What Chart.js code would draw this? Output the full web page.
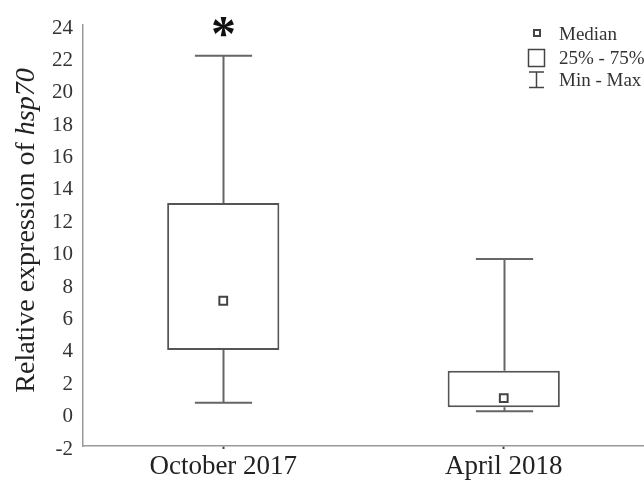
<!DOCTYPE html>
<html>
<head>
<meta charset="utf-8">
<script src="https://cdn.jsdelivr.net/npm/chart.js@4/dist/chart.umd.min.js"></script>
<style>
  html, body { margin: 0; padding: 0; background: #fff; }
  #wrap { width: 644px; height: 485px; position: relative; }
</style>
</head>
<body>
<div id="wrap"><canvas id="c" width="644" height="485"></canvas></div>
<script>
const categories = ['October 2017', 'April 2018'];
const mins    = [0.67, 0.14];
const q1      = [3.93, 0.39];
const medians = [6.97, 0.95];
const q3      = [13.0, 2.65];
const maxs    = [22.1, 9.55];
const significant = [true, false];
const yTicks = [-2, 0, 2, 4, 6, 8, 10, 12, 14, 16, 18, 20, 22, 24];

const SERIF = '"Liberation Serif", "Times New Roman", serif';

const boxPlugin = {
  id: 'boxExtras',
  afterDatasetsDraw(chart) {
    const ctx = chart.ctx;
    const y = chart.scales.y, x = chart.scales.x;
    const meta = chart.getDatasetMeta(0);
    ctx.save();
    ctx.strokeStyle = '#666';
    ctx.lineWidth = 2;
    categories.forEach((c, i) => {
      const cx = Math.round(x.getPixelForValue(i)) + 0.5;
      const w = meta.data[i].width * 0.51;
      const pMax = y.getPixelForValue(maxs[i]);
      const pMin = y.getPixelForValue(mins[i]);
      const pQ1 = y.getPixelForValue(q1[i]);
      const pQ3 = y.getPixelForValue(q3[i]);
      ctx.beginPath();
      ctx.moveTo(cx, pMax); ctx.lineTo(cx, pQ3);
      ctx.moveTo(cx, pQ1); ctx.lineTo(cx, pMin);
      ctx.moveTo(cx - w / 2, pMax); ctx.lineTo(cx + w / 2, pMax);
      ctx.moveTo(cx - w / 2, pMin); ctx.lineTo(cx + w / 2, pMin);
      ctx.stroke();
      if (significant[i]) {
        ctx.fillStyle = '#111';
        ctx.font = 'bold 50px ' + SERIF;
        ctx.textAlign = 'center';
        ctx.textBaseline = 'middle';
        ctx.fillText('*', cx, pMax - 19);
      }
    });
    ctx.restore();
  },
  afterDraw(chart) {
    const ctx = chart.ctx;
    const area = chart.chartArea;
    ctx.save();
    // y axis title with italic gene name
    const part1 = 'Relative expression of ';
    const part2 = 'hsp70';
    const fN = '28px ' + SERIF, fI = 'italic 28px ' + SERIF;
    ctx.font = fN; const w1 = ctx.measureText(part1).width;
    ctx.font = fI; const w2 = ctx.measureText(part2).width;
    const total = w1 + w2;
    ctx.translate(27, (area.top + area.bottom) / 2 - 5);
    ctx.rotate(-Math.PI / 2);
    ctx.fillStyle = '#222';
    ctx.textBaseline = 'middle';
    ctx.textAlign = 'left';
    ctx.font = fN; ctx.fillText(part1, -total / 2, 0);
    ctx.font = fI; ctx.fillText(part2, -total / 2 + w1, 0);
    ctx.restore();

    // legend
    ctx.save();
    ctx.strokeStyle = '#444';
    ctx.lineWidth = 2;
    ctx.strokeRect(534, 30, 6, 6);
    ctx.lineWidth = 1.5;
    ctx.strokeRect(528.5, 49.5, 16, 17);
    ctx.beginPath();
    ctx.moveTo(536.5, 72); ctx.lineTo(536.5, 87);
    ctx.moveTo(529, 72); ctx.lineTo(544, 72);
    ctx.moveTo(529, 87.5); ctx.lineTo(544, 87.5);
    ctx.stroke();
    ctx.fillStyle = '#333';
    ctx.font = '19px ' + SERIF;
    ctx.textBaseline = 'middle';
    ctx.textAlign = 'left';
    ctx.fillText('Median', 559, 35);
    ctx.fillText('25% - 75%', 559, 59);
    ctx.fillText('Min - Max', 559, 81);
    ctx.restore();
  }
};

new Chart(document.getElementById('c'), {
  type: 'bar',
  data: {
    labels: categories,
    datasets: [
      {
        type: 'bar',
        label: '25% - 75%',
        data: q1.map((v, i) => [v, q3[i]]),
        backgroundColor: '#ffffff',
        borderColor: '#555',
        borderWidth: 2,
        borderSkipped: false,
        categoryPercentage: 1,
        barPercentage: 0.4,
        grouped: false,
        order: 2
      },
      {
        type: 'line',
        label: 'Median',
        data: medians,
        showLine: false,
        pointStyle: 'rect',
        pointRadius: 5.5,
        pointBorderWidth: 2,
        pointBackgroundColor: '#fff',
        pointBorderColor: '#444',
        order: 1
      }
    ]
  },
  options: {
    responsive: false,
    animation: false,
    devicePixelRatio: 1,
    layout: { autoPadding: false, padding: { left: 0, right: 0, top: 25, bottom: 0 } },
    plugins: { legend: { display: false }, tooltip: { enabled: false } },
    scales: {
      x: {
        offset: true,
        grid: { display: true, drawOnChartArea: false, offset: false, tickLength: 3, color: '#444', tickWidth: 2 },
        border: { display: true, color: '#999', width: 1.5 },
        ticks: { color: '#222', font: { family: SERIF, size: 27 }, padding: 2 },
        afterFit: (s) => { s.height = 39; s.paddingLeft = 0; s.paddingRight = 0; }
      },
      y: {
        min: -2, max: 24,
        afterBuildTicks: (s) => { s.ticks = yTicks.map(v => ({ value: v })); },
        grid: { display: false, drawTicks: false },
        border: { display: true, color: '#999', width: 1.5 },
        ticks: { color: '#333', font: { family: SERIF, size: 21 }, padding: 10, labelOffset: 3 },
        afterFit: (s) => { s.width = 83; s.paddingTop = 0; s.paddingBottom = 0; }
      }
    }
  },
  plugins: [boxPlugin]
});
</script>
</body>
</html>
